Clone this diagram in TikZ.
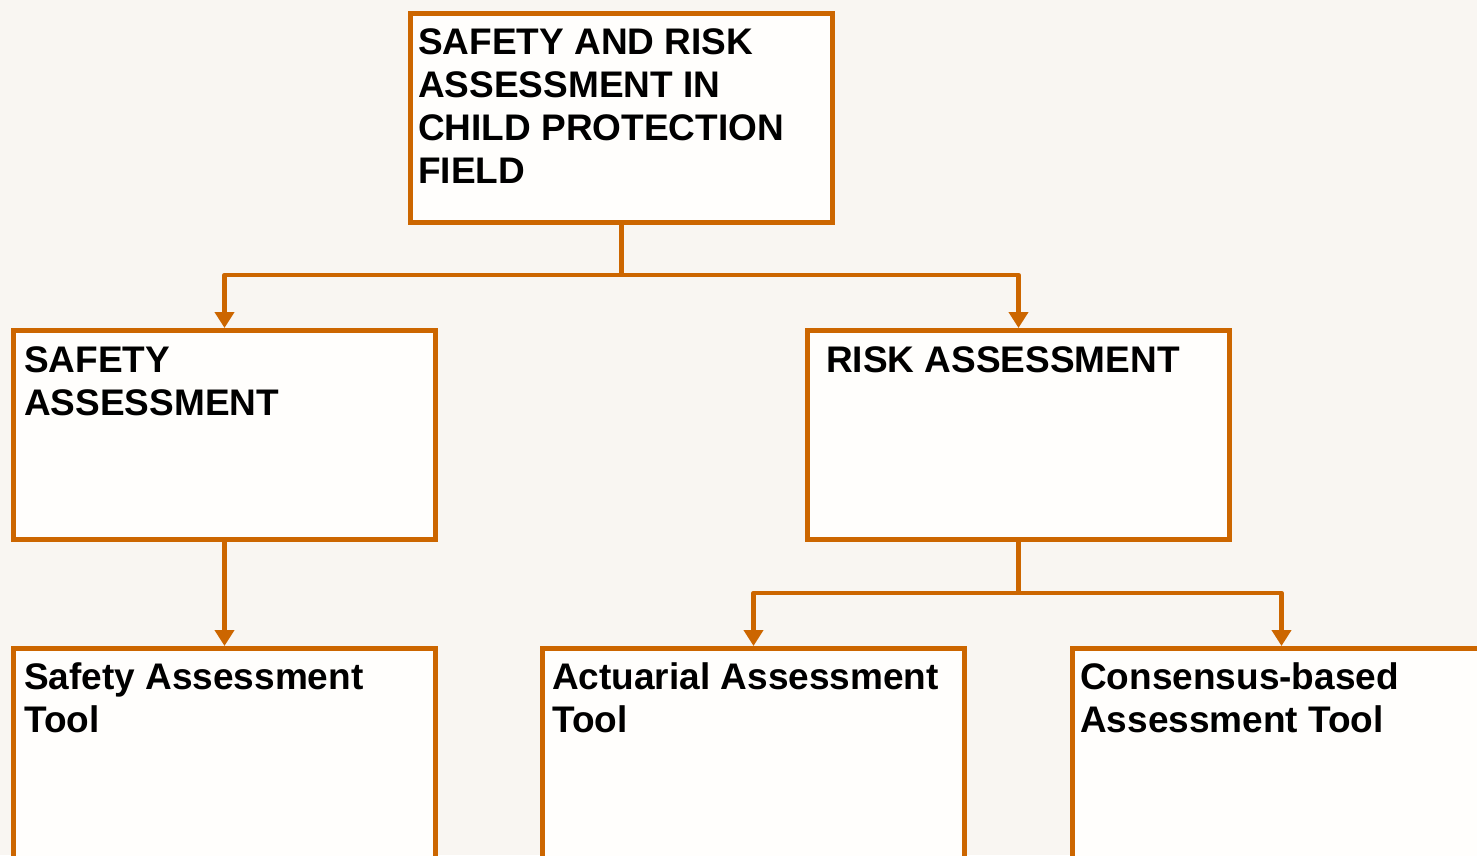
\documentclass[tikz,border=0pt]{standalone}
\usepackage{fontspec}
\setmainfont{Liberation Sans}
\usetikzlibrary{arrows.meta}
\definecolor{bgcol}{HTML}{F9F6F2}
\definecolor{boxfill}{HTML}{FFFEFC}
\definecolor{edge}{HTML}{CC6600}
\begin{document}
\begin{tikzpicture}[x=1pt,y=-1pt,
  box/.style={draw=edge, fill=boxfill, line width=4.6pt, rectangle, inner sep=0pt,
    outer sep=2.3pt, minimum width=422.4pt, minimum height=209.4pt, anchor=north west},
  lbl/.style={anchor=base west, inner sep=0pt, align=left,
    font=\fontsize{37}{42.7}\selectfont\bfseries},
  conn/.style={draw=edge, line width=4.6pt, line join=round},
  tip/.style={-{Triangle[width=19pt,length=16pt]}}]
  \fill[bgcol] (0,0) rectangle (1477,855);
  \useasboundingbox (0,0) rectangle (1477,855);
  \clip (0,0) rectangle (1477,855);

  % boxes (positions are outer edges of the frames)
  \node[box] (top) at (408,11) {};
  \node[box] (sa) at (11,328) {};
  \node[box] (ra) at (805,328) {};
  \node[box, minimum height=260pt] (st) at (11,646) {};
  \node[box, minimum height=260pt] (at) at (540,646) {};
  \node[box, minimum height=260pt] (ct) at (1070,646) {};

  % labels (anchored at the baseline of their last line)
  \node[lbl] (ttop) at (418,183) {SAFETY AND RISK\\ASSESSMENT IN\\CHILD PROTECTION\\FIELD};
  \node[lbl] (tsa) at (24,415) {SAFETY\\ASSESSMENT};
  \node[lbl] (tra) at (826,372) {RISK ASSESSMENT};
  \node[lbl] (tst) at (24,732) {Safety Assessment\\Tool};
  \node[lbl] (tat) at (552,732) {Actuarial Assessment\\Tool};
  \node[lbl] (tct) at (1080,732) {Consensus-based\\Assessment Tool};

  % connectors
  \coordinate (j1) at (top.south |- 0,275);
  \coordinate (j2) at (ra.south |- 0,593);
  \draw[conn] (top.south) -- (j1);
  \draw[conn, tip] (j1) -| (sa.north);
  \draw[conn, tip] (j1) -| (ra.north);
  \draw[conn, tip] (sa.south) -- (st.north);
  \draw[conn] (ra.south) -- (j2);
  \draw[conn, tip] (j2) -| (at.north);
  \draw[conn, tip] (j2) -| ([xshift=-2pt]ct.north);
\end{tikzpicture}
\end{document}
